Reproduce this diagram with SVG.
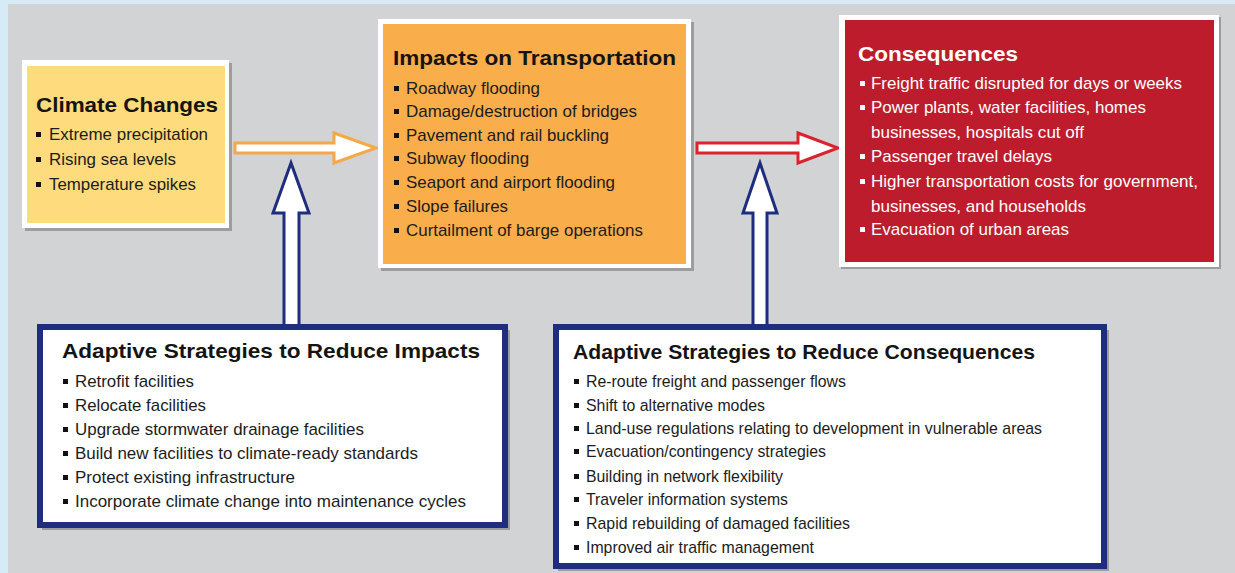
<svg xmlns="http://www.w3.org/2000/svg" width="1235" height="573" viewBox="0 0 1235 573">
<style>
.t{font-family:"Liberation Sans",Arial,sans-serif;font-weight:bold;font-size:21px;fill:#141414}
.i{font-family:"Liberation Sans",Arial,sans-serif;font-size:17px;fill:#1c1c1c}
.w{fill:#ffffff}
.b{fill:#111111}
.bw{fill:#ffffff}
.shadow{fill:#9c9d9f}
.blue{fill:#ffffff;stroke:#1e2d7e;stroke-width:6}
.arr{fill:#ffffff;stroke-width:3;stroke-linejoin:miter}
</style>
<rect x="0" y="0" width="1235" height="573" fill="#d7ebf7"/>
<rect x="8" y="4" width="1227" height="569" fill="#d2d3d5"/>

<g id="connectors">
  <polygon class="arr" stroke="#f5a849" points="235,143 334,143 334,133 376,148 334,163 334,153 235,153"/>
  <polygon class="arr" stroke="#d9232e" points="697,143 798,143 798,133 838,148 798,163 798,153 697,153"/>
  <polygon class="arr" stroke="#1e2d7e" stroke-width="3.5" points="284,328 284,213 273,213 291,163 309,213 299,213 299,328"/>
  <polygon class="arr" stroke="#1e2d7e" stroke-width="3.5" points="753,328 753,213 743,213 760,163 777,213 767,213 767,328"/>
</g>

<g id="climate-changes">
  <rect class="shadow" x="25" y="63" width="207" height="168"/>
  <rect class="w" x="22" y="60" width="207" height="168"/>
  <rect x="27" y="66" width="198" height="157" fill="#fedb7c"/>
  <text class="t" x="36" y="112" textLength="182" lengthAdjust="spacingAndGlyphs">Climate Changes</text>
  <rect class="b" x="36" y="132" width="5" height="5"/>
  <text class="i" x="49" y="140" textLength="159" lengthAdjust="spacingAndGlyphs">Extreme precipitation</text>
  <rect class="b" x="36" y="157" width="5" height="5"/>
  <text class="i" x="49" y="165" textLength="127" lengthAdjust="spacingAndGlyphs">Rising sea levels</text>
  <rect class="b" x="36" y="182" width="5" height="5"/>
  <text class="i" x="49" y="190" textLength="147" lengthAdjust="spacingAndGlyphs">Temperature spikes</text>
</g>

<g id="impacts">
  <rect class="shadow" x="381" y="22" width="313" height="249"/>
  <rect class="w" x="378" y="19" width="313" height="249"/>
  <rect x="383" y="24" width="303" height="240" fill="#f9ad4b"/>
  <text class="t" x="393" y="65" textLength="283" lengthAdjust="spacingAndGlyphs">Impacts on Transportation</text>
  <rect class="b" x="394" y="86" width="5" height="5"/>
  <text class="i" x="406" y="94" textLength="134" lengthAdjust="spacingAndGlyphs">Roadway flooding</text>
  <rect class="b" x="394" y="109" width="5" height="5"/>
  <text class="i" x="406" y="117" textLength="231" lengthAdjust="spacingAndGlyphs">Damage/destruction of bridges</text>
  <rect class="b" x="394" y="133" width="5" height="5"/>
  <text class="i" x="406" y="141" textLength="203" lengthAdjust="spacingAndGlyphs">Pavement and rail buckling</text>
  <rect class="b" x="394" y="156" width="5" height="5"/>
  <text class="i" x="406" y="164" textLength="123" lengthAdjust="spacingAndGlyphs">Subway flooding</text>
  <rect class="b" x="394" y="180" width="5" height="5"/>
  <text class="i" x="406" y="188" textLength="209" lengthAdjust="spacingAndGlyphs">Seaport and airport flooding</text>
  <rect class="b" x="394" y="204" width="5" height="5"/>
  <text class="i" x="406" y="212" textLength="102" lengthAdjust="spacingAndGlyphs">Slope failures</text>
  <rect class="b" x="394" y="228" width="5" height="5"/>
  <text class="i" x="406" y="236" textLength="237" lengthAdjust="spacingAndGlyphs">Curtailment of barge operations</text>
</g>

<g id="consequences">
  <rect class="shadow" x="841" y="17" width="380" height="252"/>
  <rect class="w" x="839" y="15" width="380" height="252"/>
  <rect x="845" y="20" width="369" height="242" fill="#bd1c2c"/>
  <text class="t" x="858" y="61" textLength="160" lengthAdjust="spacingAndGlyphs" style="fill:#ffffff">Consequences</text>
  <rect class="bw" x="860" y="81" width="5" height="5"/>
  <text class="i" x="871" y="89" textLength="311" lengthAdjust="spacingAndGlyphs" style="fill:#ffffff">Freight traffic disrupted for days or weeks</text>
  <rect class="bw" x="860" y="105" width="5" height="5"/>
  <text class="i" x="871" y="113" textLength="275" lengthAdjust="spacingAndGlyphs" style="fill:#ffffff">Power plants, water facilities, homes</text>
  <text class="i" x="871" y="138" textLength="213" lengthAdjust="spacingAndGlyphs" style="fill:#ffffff">businesses, hospitals cut off</text>
  <rect class="bw" x="860" y="154" width="5" height="5"/>
  <text class="i" x="871" y="162" textLength="181" lengthAdjust="spacingAndGlyphs" style="fill:#ffffff">Passenger travel delays</text>
  <rect class="bw" x="860" y="179" width="5" height="5"/>
  <text class="i" x="871" y="187" textLength="327" lengthAdjust="spacingAndGlyphs" style="fill:#ffffff">Higher transportation costs for government,</text>
  <text class="i" x="871" y="212" textLength="215" lengthAdjust="spacingAndGlyphs" style="fill:#ffffff">businesses, and households</text>
  <rect class="bw" x="860" y="227" width="5" height="5"/>
  <text class="i" x="871" y="235" textLength="198" lengthAdjust="spacingAndGlyphs" style="fill:#ffffff">Evacuation of urban areas</text>
</g>

<g id="strategies-impacts">
  <rect class="shadow" x="42" y="330" width="468" height="200"/>
  <rect class="blue" x="40" y="327" width="465" height="198"/>
  <text class="t" x="62" y="358" textLength="418" lengthAdjust="spacingAndGlyphs">Adaptive Strategies to Reduce Impacts</text>
  <rect class="b" x="63" y="379" width="5" height="5"/>
  <text class="i" x="75" y="387" textLength="119" lengthAdjust="spacingAndGlyphs">Retrofit facilities</text>
  <rect class="b" x="63" y="403" width="5" height="5"/>
  <text class="i" x="75" y="411" textLength="131" lengthAdjust="spacingAndGlyphs">Relocate facilities</text>
  <rect class="b" x="63" y="427" width="5" height="5"/>
  <text class="i" x="75" y="435" textLength="289" lengthAdjust="spacingAndGlyphs">Upgrade stormwater drainage facilities</text>
  <rect class="b" x="63" y="451" width="5" height="5"/>
  <text class="i" x="75" y="459" textLength="343" lengthAdjust="spacingAndGlyphs">Build new facilities to climate-ready standards</text>
  <rect class="b" x="63" y="475" width="5" height="5"/>
  <text class="i" x="75" y="483" textLength="220" lengthAdjust="spacingAndGlyphs">Protect existing infrastructure</text>
  <rect class="b" x="63" y="499" width="5" height="5"/>
  <text class="i" x="75" y="507" textLength="391" lengthAdjust="spacingAndGlyphs">Incorporate climate change into maintenance cycles</text>
</g>

<g id="strategies-consequences">
  <rect class="shadow" x="558" y="330" width="551" height="241"/>
  <rect class="blue" x="556" y="327" width="548" height="239"/>
  <text class="t" x="573" y="359" textLength="462" lengthAdjust="spacingAndGlyphs">Adaptive Strategies to Reduce Consequences</text>
  <rect class="b" x="574" y="379" width="5" height="5"/>
  <text class="i" x="586" y="387" textLength="260" lengthAdjust="spacingAndGlyphs">Re-route freight and passenger flows</text>
  <rect class="b" x="574" y="403" width="5" height="5"/>
  <text class="i" x="586" y="411" textLength="179" lengthAdjust="spacingAndGlyphs">Shift to alternative modes</text>
  <rect class="b" x="574" y="426" width="5" height="5"/>
  <text class="i" x="586" y="434" textLength="456" lengthAdjust="spacingAndGlyphs">Land-use regulations relating to development in vulnerable areas</text>
  <rect class="b" x="574" y="449" width="5" height="5"/>
  <text class="i" x="586" y="457" textLength="240" lengthAdjust="spacingAndGlyphs">Evacuation/contingency strategies</text>
  <rect class="b" x="574" y="474" width="5" height="5"/>
  <text class="i" x="586" y="482" textLength="197" lengthAdjust="spacingAndGlyphs">Building in network flexibility</text>
  <rect class="b" x="574" y="497" width="5" height="5"/>
  <text class="i" x="586" y="505" textLength="202" lengthAdjust="spacingAndGlyphs">Traveler information systems</text>
  <rect class="b" x="574" y="521" width="5" height="5"/>
  <text class="i" x="586" y="529" textLength="264" lengthAdjust="spacingAndGlyphs">Rapid rebuilding of damaged facilities</text>
  <rect class="b" x="574" y="545" width="5" height="5"/>
  <text class="i" x="586" y="553" textLength="228" lengthAdjust="spacingAndGlyphs">Improved air traffic management</text>
</g>
</svg>
